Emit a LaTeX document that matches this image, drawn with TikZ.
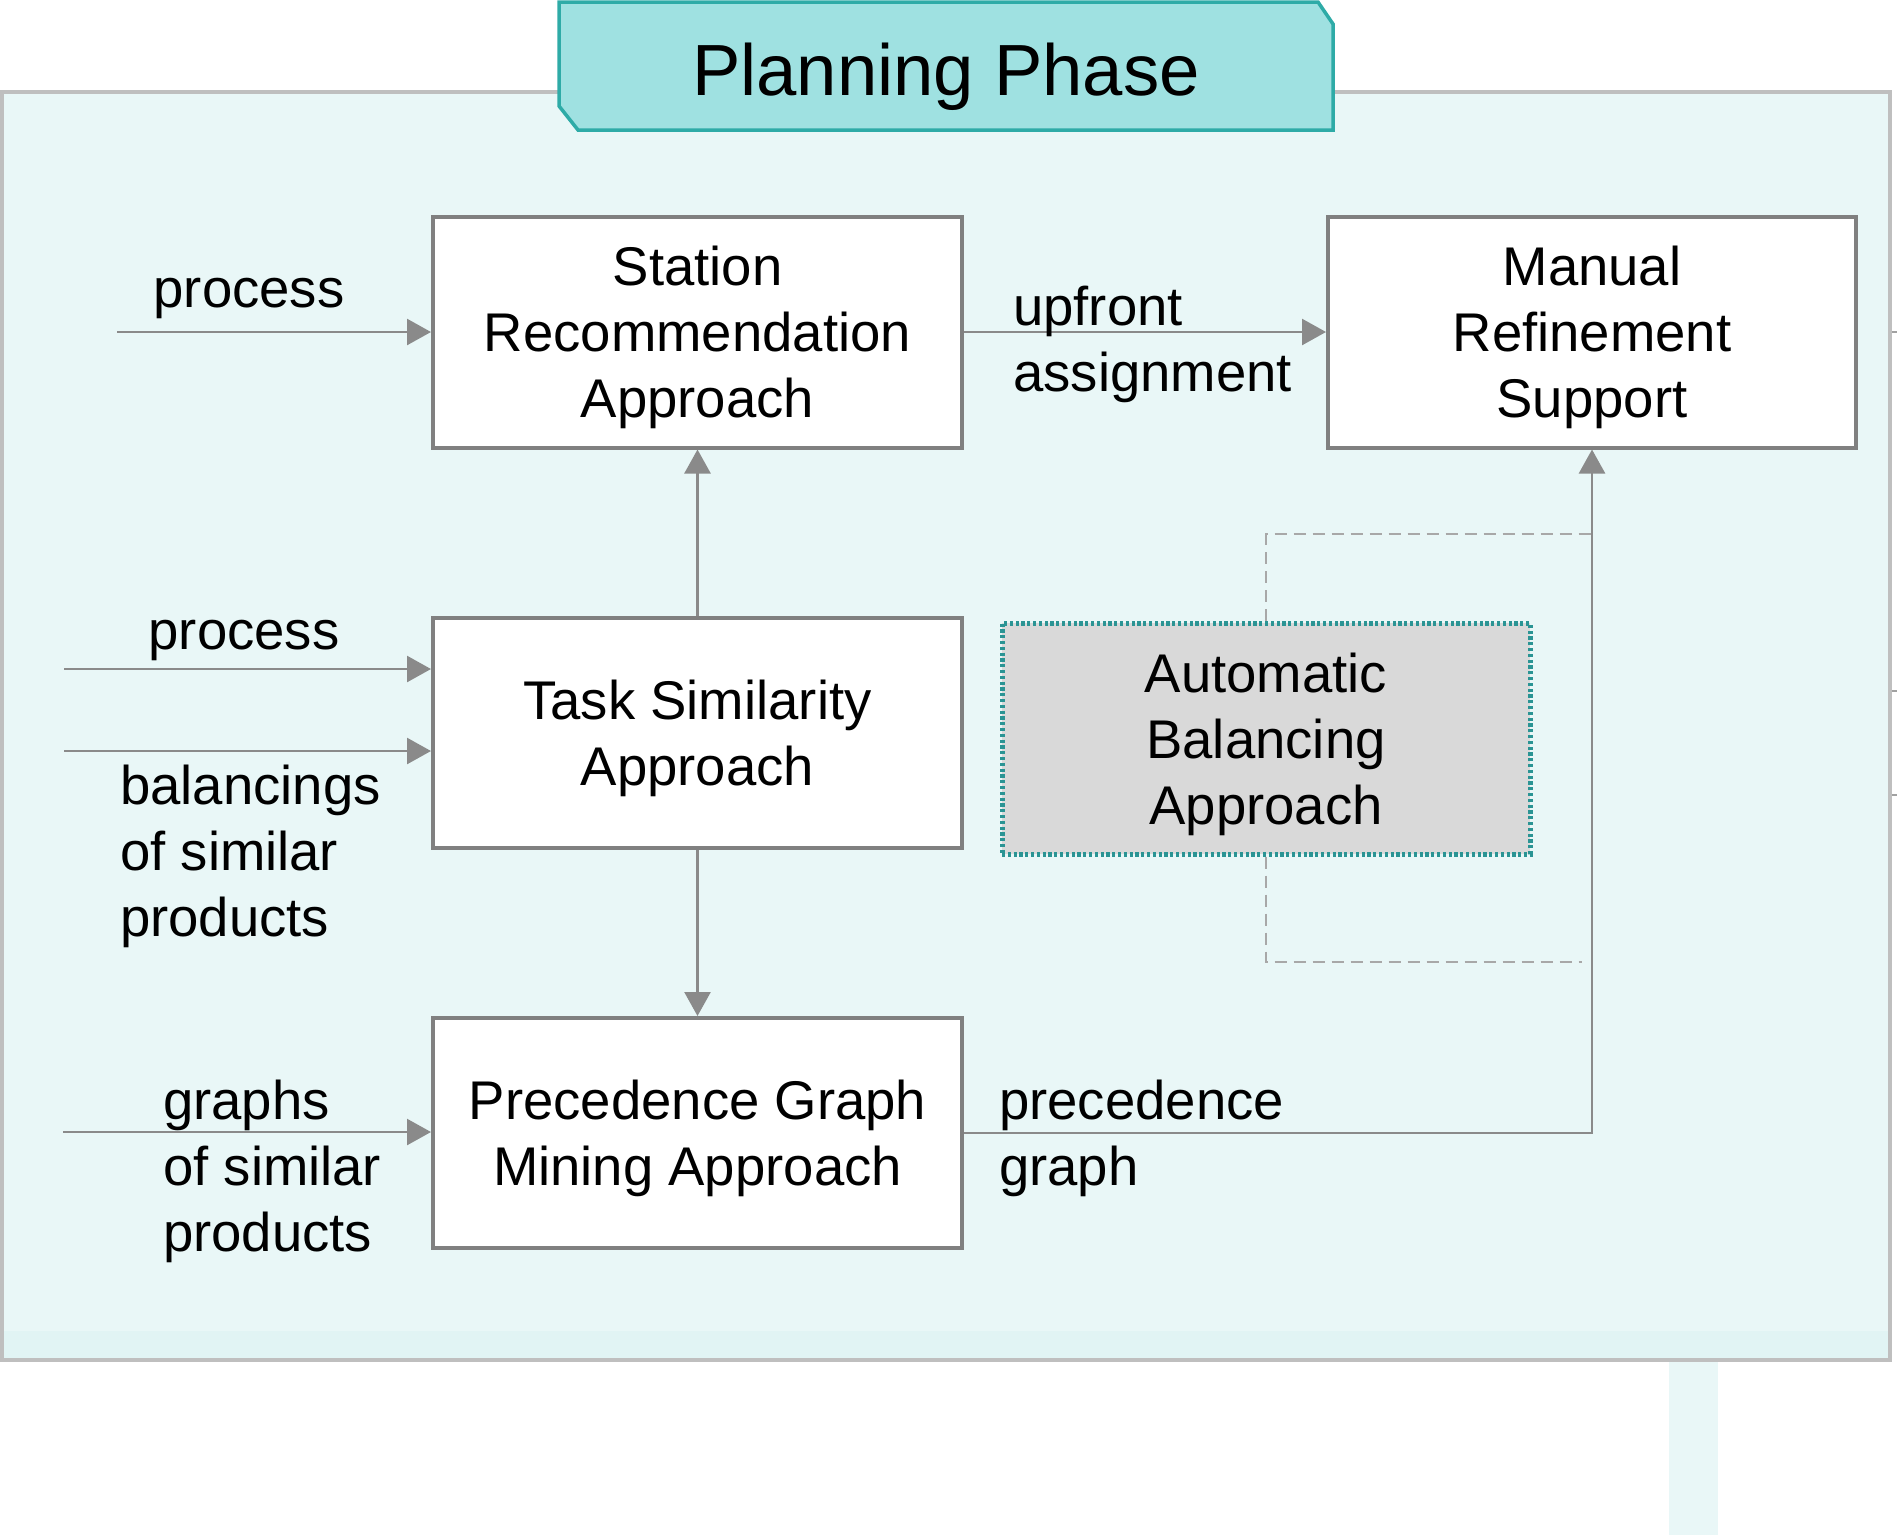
\documentclass[tikz,border=0pt]{standalone}
\usepackage{fontspec}
\setmainfont{Liberation Sans}
\usetikzlibrary{arrows.meta}
\definecolor{panelfill}{HTML}{E9F7F7}
\definecolor{panelband}{HTML}{E1F4F4}
\definecolor{panelborder}{HTML}{BFBFBF}
\definecolor{tabfill}{HTML}{9FE1E1}
\definecolor{tabborder}{HTML}{2EABA7}
\definecolor{boxgray}{HTML}{808080}
\definecolor{linegray}{HTML}{8A8A8A}
\definecolor{dashgray}{HTML}{A8A8A8}
\definecolor{autofill}{HTML}{D9D9D9}
\definecolor{autoborder}{HTML}{2A9494}
\newcommand{\lowstrut}{\rule{0pt}{50.5pt}}
\begin{document}
\begin{tikzpicture}[x=1pt,y=-1pt,
  bigtext/.style={font=\fontsize{54.5}{66}\selectfont},
  box/.style={draw=boxgray, line width=4pt, fill=white, minimum width=529pt,
    minimum height=231pt, inner sep=0pt, align=center, bigtext},
  autobox/.style={box, fill=autofill, draw=autoborder, line width=5pt,
    dash pattern=on 3.2pt off 2.6pt},
  lbl/.style={inner sep=0pt, align=left, bigtext},
  conn/.style={draw=linegray, line width=2.5pt, -{Triangle[length=24pt,width=26pt]}},
  dashconn/.style={draw=dashgray, line width=2pt, dash pattern=on 12pt off 7pt},
]
\useasboundingbox (0,0) rectangle (1897,1535);

% panel
\fill[panelfill] (2,92) rectangle (1890,1360);
\fill[panelband] (4,1331) rectangle (1888,1358);
\draw[panelborder, line width=4pt] (2,92) rectangle (1890,1360);
\fill[panelfill] (1669,1362) rectangle (1718,1535);
\foreach \yy in {332,691,795} \draw[linegray!80, line width=2pt] (1892,\yy) -- (1897,\yy);

% title tab
\draw[fill=tabfill, draw=tabborder, line width=3.5pt]
  (559,2) -- (1318,2) -- (1333,24) -- (1333,130) -- (578,130) -- (559,106) -- cycle;
\node[anchor=base, inner sep=0pt, font=\fontsize{72.5}{80}\selectfont] (title) at (946,95) {Planning Phase};

% boxes
\node[box] (st) at (697.5,332) {\lowstrut Station\\Recommendation\\Approach};
\node[box, minimum width=528pt] (mr) at (1592,332) {\lowstrut Manual\\Refinement\\Support};
\node[box, minimum height=230pt] (tk) at (697.5,733) {\lowstrut Task Similarity\\Approach};
\node[autobox, minimum width=528pt] (ab) at (1266,738.5) {\lowstrut Automatic\\Balancing\\Approach};
\node[box, minimum height=230pt] (pg) at (697.5,1133) {\lowstrut Precedence Graph\\Mining Approach};

% free ends
\coordinate (in1) at (117,332);
\coordinate (in2) at (64,669);
\coordinate (in3) at (64,751);
\coordinate (in4) at (63,1132);
\coordinate (d1) at (1597,534);
\coordinate (d2) at (1582,962);

% dashed loop around automatic balancing
\draw[dashconn] (ab.north) |- (d1);
\draw[dashconn] (ab.south) |- (d2);

% connectors
\draw[conn] (in1) -- (in1 -| st.west);
\draw[conn] (st.east) -- (mr.west);
\draw[conn] (tk.north) -- (st.south);
\draw[conn] (tk.south) -- (pg.north);
\draw[conn] (in2) -- (in2 -| tk.west);
\draw[conn] (in3) -- (in3 -| tk.west);
\draw[conn] (in4) -- (in4 -| pg.west);
\draw[conn] (pg.east) -- (pg.east -| mr.south) -- (mr.south);

% labels
\node[lbl, anchor=base] (l1) at (249,307) {process};
\node[lbl, anchor=base] (l2) at (244,649) {process};
\node[lbl, anchor=west] (l3) at (120,851) {\lowstrut balancings\\of similar\\products};
\node[lbl, anchor=west] (l4) at (163,1166) {\lowstrut graphs\\of similar\\products};
\node[lbl, anchor=west] (l5) at (1013,339) {\lowstrut upfront\\assignment};
\node[lbl, anchor=west] (l6) at (999,1133) {\lowstrut precedence\\graph};
\end{tikzpicture}
\end{document}
